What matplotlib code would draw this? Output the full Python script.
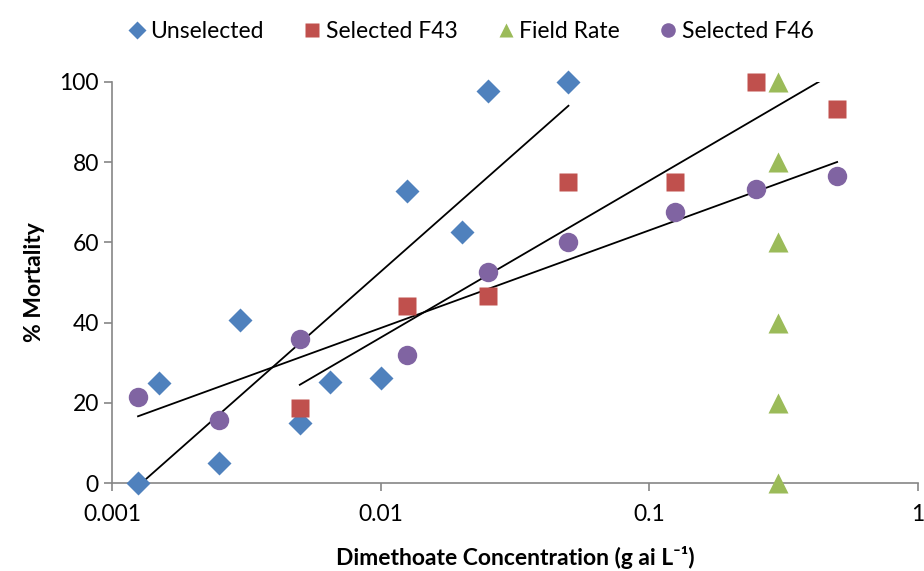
import numpy as np
import matplotlib.pyplot as plt

plt.rcParams['font.family'] = ['Lato', 'DejaVu Sans']

# data
unsel_x = [0.00125, 0.0015, 0.0025, 0.003, 0.005, 0.0065, 0.01, 0.0125, 0.02, 0.025, 0.05]
unsel_y = [0, 25, 5, 40.7, 15, 25.3, 26.3, 72.8, 62.5, 97.8, 100]

f43_x = [0.005, 0.0125, 0.025, 0.05, 0.125, 0.25, 0.5]
f43_y = [18.7, 44.2, 46.7, 75, 75, 100, 93.2]

field_x = [0.3, 0.3, 0.3, 0.3, 0.3, 0.3]
field_y = [0, 20, 40, 60, 80, 100]

f46_x = [0.00125, 0.0025, 0.005, 0.0125, 0.025, 0.05, 0.125, 0.25, 0.5]
f46_y = [21.5, 15.8, 36, 32, 52.5, 60, 67.6, 73.2, 76.5]

fig = plt.figure(figsize=(9.24, 5.71), dpi=100)
ax = fig.add_axes([112/924, 1 - 483/571, (918-112)/924, (483-82)/571])

ax.plot(unsel_x, unsel_y, 'D', color='#4F81BD', ms=12, mec='none', label='Unselected', clip_on=False, zorder=3)
ax.plot(f43_x, f43_y, 's', color='#C0504D', ms=13, mec='none', label='Selected F43', clip_on=False, zorder=3)
ax.plot(field_x, field_y, '^', color='#9BBB59', ms=14, mec='none', label='Field Rate', clip_on=False, zorder=3)
ax.plot(f46_x, f46_y, 'o', color='#8064A2', ms=14, mec='none', label='Selected F46', clip_on=False, zorder=3)

# logarithmic trendlines
for xs, ys in [(unsel_x, unsel_y), (f43_x, f43_y), (f46_x, f46_y)]:
    k, b = np.polyfit(np.log10(xs), ys, 1)
    xx = np.logspace(np.log10(min(xs)), np.log10(max(xs)), 200)
    ax.plot(xx, k * np.log10(xx) + b, color='black', lw=1.3, zorder=2)

ax.set_xscale('log')
ax.set_xlim(0.001, 1)
ax.set_ylim(0, 100)
ax.set_xticks([0.001, 0.01, 0.1, 1])
ax.set_xticklabels(['0.001', '0.01', '0.1', '1'])
ax.minorticks_off()
ax.set_yticks([0, 20, 40, 60, 80, 100])

for s in ['top', 'right']:
    ax.spines[s].set_visible(False)
for s in ['left', 'bottom']:
    ax.spines[s].set_color('#868686')
    ax.spines[s].set_linewidth(1.2)
ax.tick_params(colors='#868686', labelcolor='black', labelsize=16.5, length=6, width=1.2)
ax.tick_params(axis='x', pad=9)

ax.set_xlabel('Dimethoate Concentration (g ai L⁻¹)', fontsize=16.5, fontweight='bold', labelpad=15)
ax.set_ylabel('% Mortality', fontsize=16.5, fontweight='bold', labelpad=10)

fig.legend(loc='upper center', bbox_to_anchor=(0.507, 1.0), ncol=4, frameon=False,
           fontsize=16.5, handletextpad=0.0, columnspacing=1.5, handlelength=1.2, markerscale=0.75)

fig.savefig('out.png', dpi=100)
